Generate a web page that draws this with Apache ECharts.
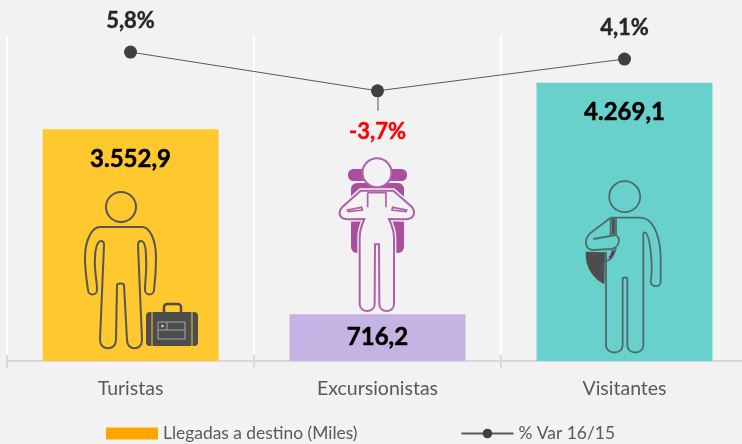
<!DOCTYPE html>
<html><head><meta charset="utf-8">
<style>html,body{margin:0;padding:0;background:#f2f2f2}#c{width:742px;height:444px}</style>
<script src="https://cdn.jsdelivr.net/npm/echarts@6/dist/echarts.min.js"></script>
</head><body><div id="c"></div>
<script>
var categories = ['Turistas', 'Excursionistas', 'Visitantes'];
var llegadas = [3552.9, 716.2, 4269.1];
var variacion = [5.8, -3.7, 4.1];
var barColors = ['#ffc82e', '#c5b3e3', '#69d1cc'];
var FONT = 'Lato';
function es(v, d) {
  var s = v.toFixed(d).split('.');
  s[0] = s[0].replace(/\B(?=(\d{3})+$)/g, '.');
  return s.join(',');
}
var GREY = '#555555', TEAL = '#4f6b6a', PUR = '#b060a8', PURD = '#a94f9e', BG = '#f2f2f2';
function path(d, style, x, y, sc) {
  return {type: 'path', x: x || 0, y: y || 0, scaleX: sc || 1, scaleY: sc || 1,
    shape: {pathData: d}, style: style};
}
function circle(cx, cy, r, style) { return {type: 'circle', shape: {cx: cx, cy: cy, r: r}, style: style}; }
function rect(x, y, w, h, r, style) { return {type: 'rect', shape: {x: x, y: y, width: w, height: h, r: r}, style: style}; }
function line(a, b, c, d, style) { return {type: 'line', shape: {x1: a, y1: b, x2: c, y2: d}, style: style}; }
var touristBody = 'M100 227L142 227C150 227 156 240 156 258C156 272 155 282 154 290C154 296 145 296 145 290C145 280 147 270 146 258C146 250 145 241 141 241C139 241 138 242 138 245L142 340C142 351 127 351 127 340L124 285C124 283 117 283 117 285L116 340C116 351 100 351 100 340L104 245C104 242 103 241 101 241C97 241 95 250 95 258C94 270 97 280 97 290C97 296 88 296 88 290C87 282 85 272 85 258C85 240 92 227 100 227Z';
var backBody = 'M122 122L220 122L275 170C290 190 280 208 255 208L207 207C215 225 222 245 222 262L222 462C222 490 178 490 178 462L177 283L165 283L164 462C164 490 119 490 119 462L119 262C119 245 125 225 133 207L85 208C60 208 50 190 68 170Z';
var visitorBody = 'M122 128L210 128C245 128 268 170 272 240L272 320C272 338 243 338 242 320C250 270 240 175 224 172C221 172 220 176 220 180L220 510C220 540 172 540 172 510L172 312C172 306 158 306 158 312L158 510C158 540 108 540 108 510L108 230';
var visitorArm = 'M122 128L60 175C40 195 45 225 70 225L125 222C150 215 152 190 138 180L70 192M122 128L122 180M138 128L138 180M108 258C125 255 132 240 138 218';
var visitorStrap = 'M130 130L130 178M118 250C125 245 128 235 130 226';
var visitorBag = 'M47 230L105 232L103 328C70 310 45 280 47 230Z';
var sGrey = {fill: 'none', stroke: GREY, lineWidth: 2};
var icons = [
  circle(121, 207, 15, sGrey),
  path(touristBody, sGrey),
  rect(164, 304, 17, 12, 3, {fill: 'none', stroke: '#4d4d4d', lineWidth: 2.5}),
  rect(146, 312, 52, 34, 4, {fill: '#4d4d4d'}),
  line(152, 312, 152, 346, {stroke: '#ffc82e', lineWidth: 1}),
  line(192, 312, 192, 346, {stroke: '#ffc82e', lineWidth: 1}),
  rect(158, 322, 27, 17, 0, {fill: 'none', stroke: '#a8a8a8', lineWidth: 1}),
  line(158, 330, 185, 330, {stroke: '#a8a8a8', lineWidth: 1}),
  line(167, 322, 167, 330, {stroke: '#a8a8a8', lineWidth: 1}),
  circle(162.5, 326, 1.2, {fill: '#dddddd'}),

  rect(348, 169, 59, 12, 5.5, {fill: PURD}),
  rect(351, 183, 53, 70, 6, {fill: PURD}),
  path(backBody, {fill: BG, stroke: BG, lineWidth: 14}, 320, 150, 1/3),
  path(backBody, {fill: BG, stroke: PUR, lineWidth: 6}, 320, 150, 1/3),
  path('M143 128L198 128L198 172M143 128L143 172M82 180L125 172L127 180L85 185ZM260 180L218 172L216 180L258 185Z', {fill: 'none', stroke: PUR, lineWidth: 5}, 320, 150, 1/3),
  circle(377, 172.7, 14.5, {fill: BG, stroke: PUR, lineWidth: 2}),

  circle(624.7, 196.7, 15.5, {fill: 'none', stroke: TEAL, lineWidth: 1.8}),
  path(visitorBag, {fill: '#4d4d4d'}, 570, 175, 1/3),
  path(visitorBody, {fill: 'none', stroke: TEAL, lineWidth: 5.5}, 570, 175, 1/3),
  path(visitorArm, {fill: 'none', stroke: TEAL, lineWidth: 5.5}, 570, 175, 1/3),
  path(visitorStrap, {fill: 'none', stroke: '#4d4d4d', lineWidth: 9}, 570, 175, 1/3)
];
var chart = echarts.init(document.getElementById('c'), null, {renderer: 'canvas'});
chart.setOption({
  backgroundColor: BG,
  animation: false,
  textStyle: {fontFamily: FONT},
  legend: {
    left: 101, top: 420, itemWidth: 52, itemHeight: 12, itemGap: 103,
    textStyle: {fontFamily: FONT, fontSize: 17.4, color: '#595959'},
    data: [{name: 'Llegadas a destino (Miles)', icon: 'rect'}, {name: '% Var 16/15'}]
  },
  grid: {left: 7, width: 741, top: 35, bottom: 83, outerBoundsMode: 'none'},
  xAxis: [{
    type: 'category', data: categories,
    axisLine: {onZero: false, lineStyle: {color: '#d9d9d9', width: 2}},
    axisTick: {show: true, length: 7, lineStyle: {color: '#d9d9d9', width: 2}},
    splitLine: {show: true, lineStyle: {color: '#ffffff', width: 2}},
    axisLabel: {fontFamily: FONT, fontSize: 19.5, color: '#595959', margin: 18}
  }, {
    type: 'category', data: categories, position: 'bottom',
    axisLine: {show: false, onZero: false}, axisLabel: {show: false}, splitLine: {show: false},
    axisTick: {show: true, inside: true, length: 6, lineStyle: {color: '#d9d9d9', width: 2}}
  }],
  yAxis: [
    {type: 'value', min: 0, max: 5000, show: false},
    {type: 'value', min: -70, max: 10, show: false}
  ],
  series: [
    {
      name: 'Llegadas a destino (Miles)', type: 'bar', barWidth: 176,
      itemStyle: {color: '#ffa500'},
      data: llegadas.map(function (v, i) {
        return {value: v, itemStyle: {color: barColors[i]},
          label: {distance: i === 1 ? 11 : 18}};
      }),
      label: {show: true, position: 'insideTop', fontFamily: FONT, fontWeight: 'bold', fontSize: 24, color: '#000000',
        textBorderColor: '#000000', textBorderWidth: 0.5,
        formatter: function (o) { return es(o.value, 1); }}
    },
    {
      type: 'custom', name: 'iconos', silent: true, clip: false, z: 3, data: [0],
      coordinateSystem: 'none',
      renderItem: function () { return {type: 'group', children: icons}; }
    },
    {
      name: '% Var 16/15', type: 'line', yAxisIndex: 1, z: 5,
      symbol: 'circle', symbolSize: 13,
      lineStyle: {color: '#595959', width: 1},
      itemStyle: {color: '#404040'},
      data: variacion.map(function (v) {
        return {value: v, label: v < 0
          ? {position: 'bottom', distance: 24, color: '#ff0000', textBorderColor: '#ff0000', textBorderWidth: 0.4}
          : {position: 'top', distance: 14, color: '#262626', textBorderColor: '#262626', textBorderWidth: 0.4}};
      }),
      label: {show: true, fontFamily: FONT, fontWeight: 'bold', fontSize: 22,
        formatter: function (o) { return es(o.value, 1) + '%'; }},
      markLine: {silent: true, symbol: 'none', label: {show: false},
        lineStyle: {color: '#a6a6a6', width: 2, type: 'solid'},
        data: [[{xAxis: 1, yAxis: -3.7}, {xAxis: 1, yAxis: -8.6}]]}
    }
  ]
});
</script></body></html>
